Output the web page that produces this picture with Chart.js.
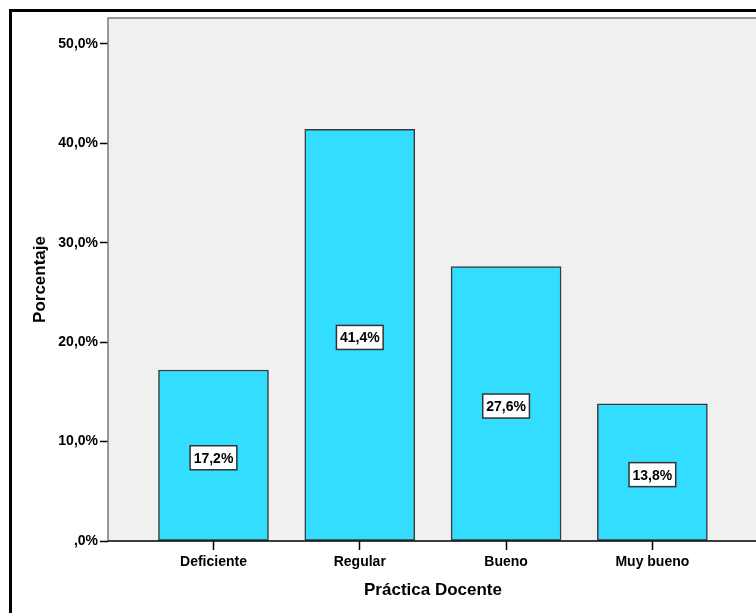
<!DOCTYPE html>
<html>
<head>
<meta charset="utf-8">
<script src="https://cdn.jsdelivr.net/npm/chart.js@4.4.1/dist/chart.umd.min.js"></script>
<style>
  html, body { margin: 0; padding: 0; background: #fff; overflow: hidden; }
  #wrap { width: 780px; height: 630px; }
</style>
</head>
<body>
<div id="wrap"><canvas id="practicaChart"></canvas></div>
<script>
// Práctica Docente - porcentajes
const categories = ['Deficiente', 'Regular', 'Bueno', 'Muy bueno'];
const percentValues = [17.2, 41.4, 27.6, 13.8];
const yTickValues = [0, 10, 20, 30, 40, 50];

const FONT = "'Liberation Sans', Arial, sans-serif";
const ctx = document.getElementById('practicaChart').getContext('2d');

// fondo gris del área de trazado + marco exterior negro
const framePlugin = {
    id: 'frame',
    beforeDraw(chart) {
        const c = chart.ctx, a = chart.chartArea;
        c.save();
        c.fillStyle = '#ffffff';
        c.fillRect(0, 0, chart.width, chart.height);
        c.fillStyle = '#f0f0f0';
        c.fillRect(a.left, a.top, a.right - a.left, a.bottom - a.top);
        c.strokeStyle = '#000';
        c.lineWidth = 3;
        c.strokeRect(10.5, 10.5, chart.width, chart.height);
        c.restore();
    },
    afterDraw(chart) {
        const c = chart.ctx, a = chart.chartArea;
        c.save();
        c.strokeStyle = '#777';
        c.lineWidth = 1.5;
        c.beginPath();
        c.moveTo(a.left, a.bottom);
        c.lineTo(a.left, a.top);
        c.lineTo(a.right, a.top);
        c.lineTo(a.right, a.bottom);
        c.stroke();
        c.strokeStyle = '#000';
        c.lineWidth = 1.5;
        c.beginPath();
        c.moveTo(a.left, a.bottom);
        c.lineTo(a.right, a.bottom);
        c.stroke();
        c.restore();
    }
};

// etiquetas de valor en caja blanca
const valueLabels = {
    id: 'valueLabels',
    afterDatasetsDraw(chart) {
        const c = chart.ctx;
        const meta = chart.getDatasetMeta(0);
        c.save();
        c.font = 'bold 14px ' + FONT;
        c.textAlign = 'center';
        c.textBaseline = 'middle';
        meta.data.forEach((bar, i) => {
            const txt = percentValues[i].toFixed(1).replace('.', ',') + '%';
            const w = c.measureText(txt).width + 7;
            const h = 24;
            const cx = bar.x;
            const cy = (bar.y + bar.base) / 2 + 2.5;
            c.fillStyle = '#fff';
            c.fillRect(cx - w / 2, cy - h / 2, w, h);
            c.strokeStyle = '#333';
            c.lineWidth = 1.5;
            c.strokeRect(cx - w / 2, cy - h / 2, w, h);
            c.fillStyle = '#000';
            c.fillText(txt, cx, cy + 1);
        });
        c.restore();
    }
};

const practicaChart = new Chart(ctx, {
    type: 'bar',
    data: {
        datasets: [{
            data: categories.map((cat, i) => ({ x: i, y: percentValues[i] })),
            backgroundColor: '#33ddff',
            borderColor: '#3a3a3a',
            borderWidth: 1.5,
            borderSkipped: false,
            barThickness: 110
        }]
    },
    options: {
        responsive: true,
        maintainAspectRatio: false,
        animation: false,
        layout: { padding: { top: 18, right: 22, left: 0, bottom: 0 } },
        plugins: { legend: { display: false }, tooltip: { enabled: false } },
        scales: {
            x: {
                type: 'linear',
                min: -0.721,
                max: 3.722,
                offset: false,
                afterBuildTicks(scale) {
                    scale.ticks = categories.map((c, i) => ({ value: i }));
                },
                afterFit(scale) { scale.height = 89; },
                grid: { display: true, drawOnChartArea: false, offset: false, tickLength: 9, tickColor: '#000', tickWidth: 1.5 },
                border: { display: false },
                ticks: {
                    autoSkip: false,
                    maxRotation: 0,
                    padding: 4,
                    color: '#000',
                    font: { family: FONT, size: 14, weight: 'bold' },
                    callback: (v) => categories[v]
                },
                title: {
                    display: true,
                    text: 'Práctica Docente',
                    color: '#000',
                    font: { family: FONT, size: 17, weight: 'bold' },
                    padding: { top: 0, bottom: 29 }
                }
            },
            y: {
                min: 0,
                max: 52.6,
                afterBuildTicks(scale) {
                    scale.ticks = yTickValues.map(v => ({ value: v }));
                },
                afterFit(scale) { scale.width = 108; },
                grid: { display: true, drawOnChartArea: false, tickLength: 8, tickColor: '#000', tickWidth: 1.5 },
                border: { display: false },
                ticks: {
                    padding: 2,
                    color: '#000',
                    font: { family: FONT, size: 14, weight: 'bold' },
                    callback: (v) => v === 0 ? ',0%' : v.toFixed(1).replace('.', ',') + '%'
                },
                title: {
                    display: true,
                    text: 'Porcentaje',
                    color: '#000',
                    font: { family: FONT, size: 17, weight: 'bold' },
                    padding: { top: 30, bottom: 0 }
                }
            }
        }
    },
    plugins: [framePlugin, valueLabels]
});
</script>
</body>
</html>
